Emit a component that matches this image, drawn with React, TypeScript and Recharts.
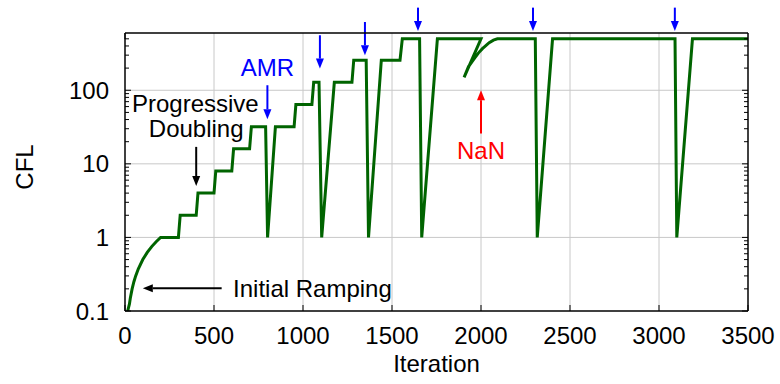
import {
  LineChart, Line, XAxis, YAxis, CartesianGrid,
  ReferenceLine, ReferenceDot,
} from 'recharts'

// CFL history (iteration, CFL). The line backtracks at 2000 (NaN restart).
const iterations = [
  15, 25, 30, 40, 50, 60, 75, 100, 125, 150, 175, 200,
  300, 310, 400, 410, 500, 510, 600, 610, 700, 710,
  790, 801, 845, 950, 960, 1050, 1060, 1090, 1105, 1176,
  1275, 1285, 1355, 1368, 1440, 1545, 1558, 1655, 1667, 1755,
  2000, 1905, 1930, 1962, 1985, 2008, 2046, 2070, 2092,
  2305, 2316, 2402, 3090, 3100, 3188, 3500,
]
const cfl = [
  0.1, 0.125, 0.15, 0.2, 0.25, 0.3, 0.375, 0.5, 0.625, 0.75, 0.875, 1,
  1, 2, 2, 4, 4, 8, 8, 16, 16, 32,
  32, 1, 32, 32, 64, 64, 128, 128, 1, 128,
  128, 256, 256, 1, 256, 256, 500, 500, 1, 500,
  500, 150, 210, 269, 320, 368, 443, 480, 500,
  500, 1, 500, 500, 1, 500, 500,
]

const xTicks = [0, 500, 1000, 1500, 2000, 2500, 3000, 3500]
const yMajor = [0.1, 1, 10, 100]
const yMinor = [
  0.2, 0.3, 0.4, 0.5, 0.6, 0.7, 0.8, 0.9,
  2, 3, 4, 5, 6, 7, 8, 9,
  20, 30, 40, 50, 60, 70, 80, 90,
  200, 300, 400, 500,
]

// AMR arrows: iteration, start CFL, tip CFL
const amrX = [800, 1095, 1348, 1646, 2292, 3089]
const amrFrom = [117, 559, 847, 1327, 1327, 1327]
const amrTo = [40.5, 197, 299, 638, 638, 638]

const data = iterations.map((it, i) => ({ it, cfl: cfl[i] }))
const yTicks = [...yMajor, ...yMinor].sort((a, b) => a - b)

const FONT = '"Liberation Sans", Arial, sans-serif'
const FS = 24
const FRAME = '#000'

function arrow(color: string) {
  return (p: any) => {
    const { x1, y1, x2, y2 } = p
    const dx = x2 - x1
    const dy = y2 - y1
    const len = Math.hypot(dx, dy) || 1
    const ux = dx / len
    const uy = dy / len
    const hl = 10
    const hw = 4
    const bx = x2 - ux * hl
    const by = y2 - uy * hl
    return (
      <g>
        <line x1={x1} y1={y1} x2={bx} y2={by} stroke={color} strokeWidth={2} />
        <polygon
          points={`${x2},${y2} ${bx - uy * hw},${by + ux * hw} ${bx + uy * hw},${by - ux * hw}`}
          fill={color}
        />
      </g>
    )
  }
}

function note(text: string, color: string, anchor: 'start' | 'middle' | 'end') {
  return (p: any) => (
    <text x={p.cx} y={p.cy} fill={color} fontSize={FS} fontFamily={FONT} textAnchor={anchor}>
      {text}
    </text>
  )
}

function BottomTick({ x, y, payload }: any) {
  return (
    <g>
      <line x1={x} y1={y} x2={x} y2={y - 6} stroke={FRAME} strokeWidth={1} />
      <text x={x} y={y + 33} textAnchor="middle" fontSize={FS} fontFamily={FONT} fill="#000">
        {payload.value}
      </text>
    </g>
  )
}

function TopTick({ x, y }: any) {
  return <line x1={x} y1={y} x2={x} y2={y + 6} stroke={FRAME} strokeWidth={1} />
}

function LeftTick({ x, y, payload }: any) {
  const major = yMajor.includes(payload.value)
  return (
    <g>
      <line x1={x} y1={y} x2={x + (major ? 6 : 4)} y2={y} stroke={FRAME} strokeWidth={1} />
      {major && (
        <text x={x - 16} y={y + 8.5} textAnchor="end" fontSize={FS} fontFamily={FONT} fill="#000">
          {payload.value}
        </text>
      )}
    </g>
  )
}

function RightTick({ x, y, payload }: any) {
  const major = yMajor.includes(payload.value)
  return <line x1={x} y1={y} x2={x - (major ? 6 : 4)} y2={y} stroke={FRAME} strokeWidth={1} />
}

export default function App() {
  return (
    <div style={{ position: 'absolute', left: 0, top: 0, background: '#fff' }}>
      <LineChart
        width={780}
        height={384}
        data={data}
        margin={{ top: 32, right: 31, bottom: 0, left: 0 }}
      >
        <CartesianGrid
          stroke="#c8c8c8"
          strokeWidth={1}
          horizontalValues={yMajor.slice(1)}
          verticalValues={xTicks.slice(1, -1)}
        />
        <XAxis
          dataKey="it"
          type="number"
          domain={[0, 3500]}
          ticks={xTicks}
          interval={0}
          height={73}
          tickSize={0}
          tickMargin={0}
          tickLine={false}
          tick={<BottomTick />}
          axisLine={{ stroke: FRAME, strokeWidth: 1.5 }}
          allowDataOverflow
          label={{
            content: (p: any) => (
              <text
                x={p.viewBox.x + p.viewBox.width / 2}
                y={p.viewBox.y + 61}
                textAnchor="middle"
                fontSize={FS}
                fontFamily={FONT}
                fill="#000"
              >
                Iteration
              </text>
            ),
          }}
        />
        <XAxis
          xAxisId="top"
          orientation="top"
          type="number"
          domain={[0, 3500]}
          ticks={xTicks}
          interval={0}
          height={1}
          tickSize={0}
          tickMargin={0}
          tickLine={false}
          tick={<TopTick />}
          axisLine={{ stroke: FRAME, strokeWidth: 1.5 }}
          allowDataOverflow
        />
        <YAxis
          type="number"
          scale="log"
          domain={[0.1, 600]}
          ticks={yTicks}
          interval={0}
          width={125}
          tickSize={0}
          tickMargin={0}
          tickLine={false}
          tick={<LeftTick />}
          axisLine={{ stroke: FRAME, strokeWidth: 1.5 }}
          allowDataOverflow
          label={{
            content: () => (
              <text
                x={33}
                y={167}
                transform="rotate(-90, 33, 167)"
                textAnchor="middle"
                fontSize={FS}
                fontFamily={FONT}
                fill="#000"
              >
                CFL
              </text>
            ),
          }}
        />
        <YAxis
          yAxisId="right"
          orientation="right"
          type="number"
          scale="log"
          domain={[0.1, 600]}
          ticks={yTicks}
          interval={0}
          width={1}
          tickSize={0}
          tickMargin={0}
          tickLine={false}
          tick={<RightTick />}
          axisLine={{ stroke: FRAME, strokeWidth: 1.5 }}
          allowDataOverflow
        />
        <Line
          dataKey="cfl"
          type="linear"
          stroke="#006400"
          strokeWidth={3}
          dot={false}
          isAnimationActive={false}
          strokeLinejoin="miter"
        />

        {amrX.map((x, i) => (
          <ReferenceLine
            key={'amr' + i}
            segment={[{ x, y: amrFrom[i] }, { x, y: amrTo[i] }]}
            ifOverflow="visible"
            shape={arrow('#0000ff')}
          />
        ))}
        <ReferenceDot x={800} y={155} r={0} ifOverflow="visible" shape={note('AMR', '#0000ff', 'middle')} />

        <ReferenceDot x={395} y={50.8} r={0} ifOverflow="visible" shape={note('Progressive', '#000', 'middle')} />
        <ReferenceDot x={400} y={23.5} r={0} ifOverflow="visible" shape={note('Doubling', '#000', 'middle')} />
        <ReferenceLine
          segment={[{ x: 400, y: 17 }, { x: 400, y: 4.98 }]}
          ifOverflow="visible"
          shape={arrow('#000')}
        />

        <ReferenceDot x={607} y={0.153} r={0} ifOverflow="visible" shape={note('Initial Ramping', '#000', 'start')} />
        <ReferenceLine
          segment={[{ x: 543, y: 0.203 }, { x: 100, y: 0.203 }]}
          ifOverflow="visible"
          shape={arrow('#000')}
        />

        <ReferenceDot x={2000} y={11.8} r={0} ifOverflow="visible" shape={note('NaN', '#ff0000', 'middle')} />
        <ReferenceLine
          segment={[{ x: 2000, y: 25.8 }, { x: 2000, y: 100 }]}
          ifOverflow="visible"
          shape={arrow('#ff0000')}
        />
      </LineChart>
    </div>
  )
}
